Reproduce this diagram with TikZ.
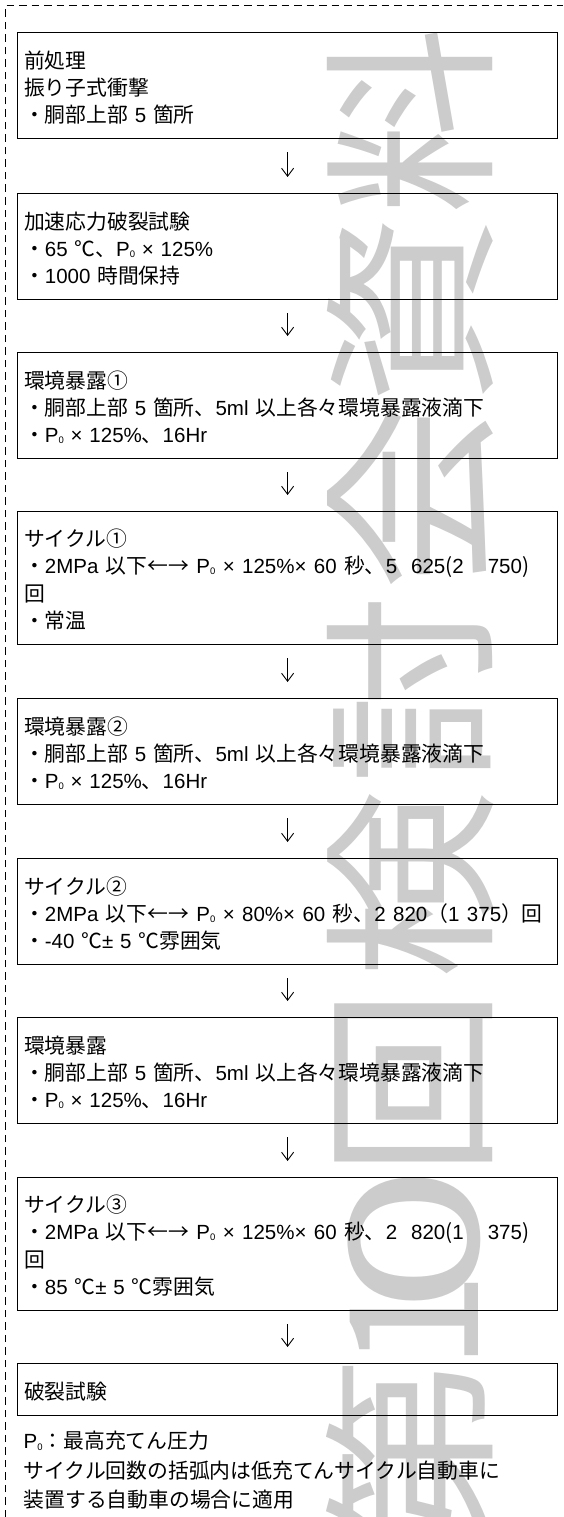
\documentclass[tikz,border=0pt]{standalone}
\usepackage{fontspec}
\usepackage{graphicx}
\setmainfont{Liberation Sans}
\newfontfamily\jpfont[Scale=1.0146]{Noto Sans CJK JP}
\newfontfamily\wmfont{Noto Sans CJK JP}
\usetikzlibrary{arrows.meta}
\newcommand\J[1]{{\jpfont #1}}
\newcommand\Pz{P\raisebox{-1.2pt}{\fontsize{9.5}{9.5}\selectfont 0}}
\newcommand\Sx{\rule[-4pt]{0pt}{27pt}}
\newcommand\wide{\spaceskip=7.4pt\relax}
\tikzset{
  stepbox/.style={draw, line width=1.2pt, anchor=north west, minimum width=540pt,
    text width=527pt, inner xsep=6.5pt, inner ysep=0pt, align=left,
    font=\fontsize{20.5}{27}\selectfont},
  flowarrow/.style={line width=0.9pt, -{Straight Barb[length=8pt,width=12pt,line width=0.9pt]}},
  frame/.style={line width=1pt, dash pattern=on 7.5pt off 5pt},
  notes/.style={anchor=north west, inner sep=0pt, text width=535pt, align=left,
    font=\fontsize{20.5}{29.5}\selectfont},
  wmchar/.style={rotate=90, anchor=base, inner sep=0pt, text=black!20,
    font=\wmfont\fontsize{180}{180}\selectfont}
}
\begin{document}
\begin{tikzpicture}[x=1pt,y=1pt]
\useasboundingbox (0,0) rectangle (563,-1517);
% watermark (rotated text, read from bottom to top)
\node[wmchar] (wm1) at (478,-1452) {\scalebox{1.05}[1]{第}};
\node[wmchar] (wm2) at (478,-1322) {1};
\node[wmchar] (wm3) at (478,-1240) {\scalebox{1.5}[1]{0}};
\node[wmchar] (wm4) at (478,-1083) {\scalebox{1.05}[1]{回}};
\node[wmchar] (wm5) at (478,-885) {\scalebox{1.05}[1]{検}};
\node[wmchar] (wm6) at (478,-690) {\scalebox{1.05}[1]{討}};
\node[wmchar] (wm7) at (478,-497) {\scalebox{1.05}[1]{会}};
\node[wmchar] (wm8) at (478,-310) {\scalebox{1.05}[1]{資}};
\node[wmchar] (wm9) at (478,-121) {\scalebox{1.05}[1]{料}};
% frame
\coordinate (fbl) at (5.5,-1517);
\coordinate (ftl) at (5.5,-5.5);
\coordinate (ftr) at (563,-5.5);
\draw[frame] (fbl) -- (ftl) -- (ftr);
% boxes
\node[stepbox, minimum height=106pt] (b1) at (17,-32) {%
\Sx\J{前処理}\\
\Sx\J{振り子式衝撃}\\
\Sx\J{・胴部上部} 5 \J{箇所}};
\node[stepbox, minimum height=106pt] (b2) at (17,-193) {%
\Sx\J{加速応力破裂試験}\\
\Sx\J{・}65 \J{℃、}\Pz{} × 125\%\\
\Sx\J{・}1000 \J{時間保持}};
\node[stepbox, minimum height=106pt] (b3) at (17,-352) {%
\Sx\J{環境暴露①}\\
\Sx\J{・胴部上部} 5 \J{箇所、}5ml \J{以上各々環境暴露液滴下}\\
\Sx\J{・}\Pz{} × 125\%\J{、}16Hr};
\node[stepbox, minimum height=133pt] (b4) at (17,-511) {%
\Sx\J{サイクル①}\\
\Sx{\wide\J{・}2MPa \J{以下←→} \Pz{} × 125\%× 60 \J{秒、}5\hspace{14pt}625\J{(}2\hspace{24pt}750\J{)}}\\
\Sx\J{回}\\
\Sx\J{・常温}};
\node[stepbox, minimum height=106pt] (b5) at (17,-698) {%
\Sx\J{環境暴露②}\\
\Sx\J{・胴部上部} 5 \J{箇所、}5ml \J{以上各々環境暴露液滴下}\\
\Sx\J{・}\Pz{} × 125\%\J{、}16Hr};
\node[stepbox, minimum height=106pt] (b6) at (17,-858) {%
\Sx\J{サイクル②}\\
\Sx{\wide\J{・}2MPa \J{以下←→} \Pz{} × 80\%× 60 \J{秒、}2 820\J{（}1 375\J{）回}}\\
\Sx\J{・}-40 \J{℃}± 5 \J{℃雰囲気}};
\node[stepbox, minimum height=106pt] (b7) at (17,-1017) {%
\Sx\J{環境暴露}\\
\Sx\J{・胴部上部} 5 \J{箇所、}5ml \J{以上各々環境暴露液滴下}\\
\Sx\J{・}\Pz{} × 125\%\J{、}16Hr};
\node[stepbox, minimum height=133pt] (b8) at (17,-1177) {%
\Sx\J{サイクル③}\\
\Sx{\wide\J{・}2MPa \J{以下←→} \Pz{} × 125\%× 60 \J{秒、}2\hspace{14pt}820\J{(}1\hspace{24pt}375\J{)}}\\
\Sx\J{回}\\
\Sx\J{・}85 \J{℃}± 5 \J{℃雰囲気}};
\node[stepbox, minimum height=52pt] (b9) at (17,-1363) {%
\Sx\J{破裂試験}};
% notes
\node[notes] (nt) at (23.5,-1425.7) {%
\Sx\Pz\J{：最高充てん圧力}\\
\Sx\J{サイクル回数の括弧内は低充てんサイクル自動車に}\\
\Sx\J{装置する自動車の場合に適用}};
% arrows
\foreach \a/\b in {b1/b2,b2/b3,b3/b4,b4/b5,b5/b6,b6/b7,b7/b8,b8/b9}{
  \draw[flowarrow] ([yshift=-13pt]\a.south) -- ([yshift=16pt]\b.north);
}
\end{tikzpicture}
\end{document}
